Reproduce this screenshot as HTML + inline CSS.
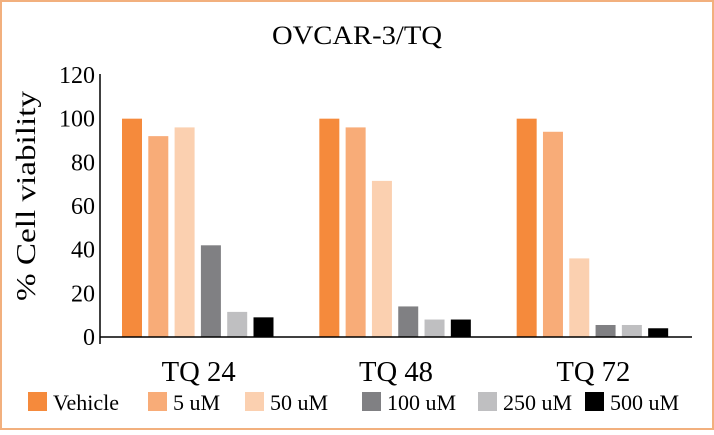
<!DOCTYPE html>
<html><head><meta charset="utf-8"><style>
body{margin:0;background:#fff}
svg text{font-family:"Liberation Serif",serif;fill:#000}
</style></head><body>
<svg width="714" height="430" xmlns="http://www.w3.org/2000/svg">
<rect x="1" y="1" width="712" height="428" fill="#fff" stroke="#F2B07E" stroke-width="2"/>
<text x="357" y="44" font-size="26" text-anchor="middle" textLength="170" lengthAdjust="spacingAndGlyphs">OVCAR-3/TQ</text>
<text transform="translate(35,196) rotate(-90)" font-size="27" text-anchor="middle" textLength="210" lengthAdjust="spacingAndGlyphs">% Cell viability</text>
<g id="plot"></g>
</svg>
<script>
const categories=["TQ 24","TQ 48","TQ 72"];
const seriesNames=["Vehicle","5 uM","50 uM","100 uM","250 uM","500 uM"];
const vehicle=[100,100,100];
const uM5=[92,96,94];
const uM50=[96,71.5,36];
const uM100=[42,14,5.5];
const uM250=[11.5,8,5.5];
const uM500=[9,8,4];
const yTicks=[0,20,40,60,80,100,120];
const series=[vehicle,uM5,uM50,uM100,uM250,uM500];
const colors=["#F58A3C","#F8AC78","#FBD0B0","#808083","#BFBFC1","#000000"];
const NS="http://www.w3.org/2000/svg";
const g=document.getElementById('plot');
const x0=100,x1=692,yBase=337,yTop=75;
const y=v=>yBase-(v/120)*(yBase-yTop);
const gw=(x1-x0)/categories.length;
function mk(t,a){const e=document.createElementNS(NS,t);for(const k in a)e.setAttribute(k,a[k]);g.appendChild(e);return e;}
yTicks.forEach(t=>{
 const tx=mk('text',{x:x0-5,y:y(t)+8,'font-size':24,'text-anchor':'end'});
 tx.textContent=t;
 
 
});
const bw=20,step=26.3;
categories.forEach((c,i)=>{
 const start=x0+i*gw+22;
 series.forEach((s,j)=>{
  const r=mk('rect',{x:start+j*step,y:y(s[i]),width:bw,height:yBase-y(s[i]),fill:colors[j]});
  
  
 });
 const tx=mk('text',{x:x0+i*gw+gw/2,y:381,'font-size':28,'text-anchor':'middle',textLength:74,lengthAdjust:'spacingAndGlyphs'});
 tx.textContent=c;
 
 
});
let ax=mk('line',{x1:x0,x2:x0,y1:yTop-1,y2:yBase+7,stroke:'#000','stroke-width':1.5});


ax=mk('line',{x1:x0,x2:x1,y1:yBase,y2:yBase,stroke:'#000','stroke-width':1.5});


const lx=[28,148,245,362,478,585];
seriesNames.forEach((n,j)=>{
 const r=mk('rect',{x:lx[j],y:392,width:19,height:19,fill:colors[j]});
 
 
 const t=mk('text',{x:lx[j]+25,y:410,'font-size':22});
 t.textContent=n;
 
 
});
</script>
</body></html>
